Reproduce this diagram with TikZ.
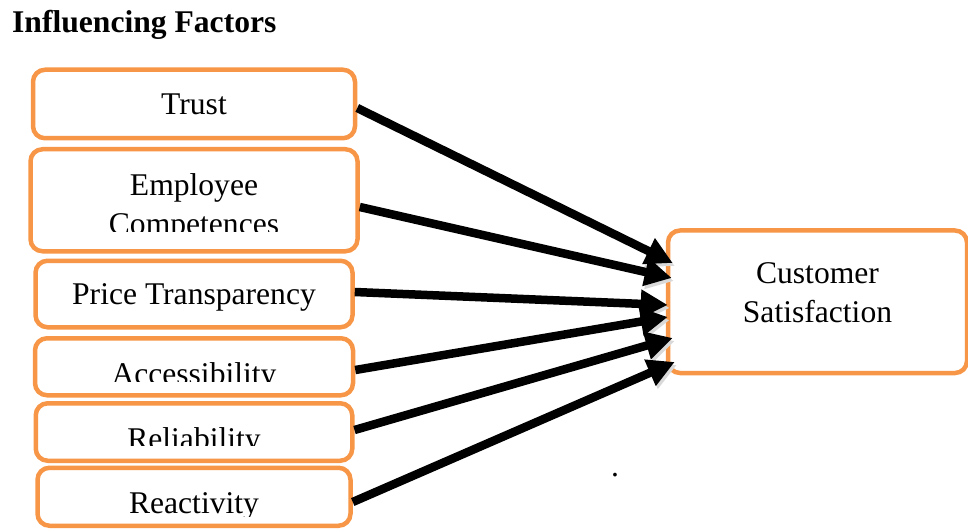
\documentclass[tikz,border=0pt]{standalone}
\usepackage{fontspec}
\setmainfont{Liberation Serif}
\usepackage{xcolor}
\usetikzlibrary{arrows.meta,positioning}

\definecolor{boxorange}{RGB}{247,150,70}

\begin{document}
\begin{tikzpicture}[
  x=1pt, y=1pt,
  font=\fontsize{31.6}{39.4}\selectfont,
  node distance=5pt,
  factor/.style={draw=boxorange, line width=4.5pt, rounded corners=12pt, fill=white,
                 minimum width=320pt, inner sep=0pt},
  word/.style={anchor=base, inner sep=0pt},
  ar/.style={-{Triangle[length=27pt,width=27pt]}, line width=8.5pt,
             preaction={draw=black!15, transform canvas={xshift=2pt,yshift=-3pt}}}
]
\useasboundingbox (0,0) rectangle (968,-529);

\node[anchor=base west, inner sep=0pt, font=\fontsize{31.6}{38}\selectfont\bfseries] (title) at (12,-33) {Influencing Factors};

% left column: the six factors
\node[factor, minimum width=322pt, minimum height=68.5pt, text height=21pt, text depth=0pt] (trust) at (194,-104) {Trust};
\node[factor, minimum width=327pt, minimum height=102pt, below=6.5pt of trust] (emp) {};
\node[factor, minimum width=317pt, minimum height=66.5pt, text height=21pt, text depth=0pt,
      below=of emp] (price) {Price Transparency};
\node[factor, minimum width=318pt, minimum height=57pt, below=6.5pt of price] (access) {};
\node[factor, minimum width=316.5pt, minimum height=57.5pt, below=3.5pt of access] (reliab) {};
\node[factor, minimum width=313pt, minimum height=58pt, below=2.5pt of reliab] (react) {};

% texts cut off at the bottom, as in the text boxes
\begin{scope}
  \clip (emp.north west) rectangle ([yshift=21.8pt]emp.south east);
  \node[word] (emp-a) at ([yshift=4.5pt]emp.center) {Employee};
  \node[word] (emp-b) at ([yshift=-33.75pt]emp.center) {Competences};
\end{scope}
\foreach \n/\t/\b/\c in {access/Accessibility/-17.25/16.5, reliab/Reliability/-17.7/17.3,
                         react/Reactivity/-16.55/12}{
  \begin{scope}
    \clip (\n.north west) rectangle ([yshift=\c pt]\n.south east);
    \node[word] (\n-t) at ([yshift=\b pt]\n.center) {\t};
  \end{scope}
}

% right: outcome
\node[factor, minimum width=299pt, minimum height=142.5pt, align=center, text depth=19pt]
  (sat) at (817.5,-301.75) {Customer\\Satisfaction};

\foreach \a/\sa/\sb/\dx in {trust/-4/38.75/7, emp/-6.75/23.75/6, price/2/-3.25/2,
                            access/-3.25/-15.25/2, reliab/2/-36.25/7, react/-5.25/-60.25/9}
  \draw[ar] ([yshift=\sa pt]\a.east) -- ([xshift=\dx pt, yshift=\sb pt]sat.west);

\node[word] (dot) at (615,-476.5) {.};
\end{tikzpicture}
\end{document}
